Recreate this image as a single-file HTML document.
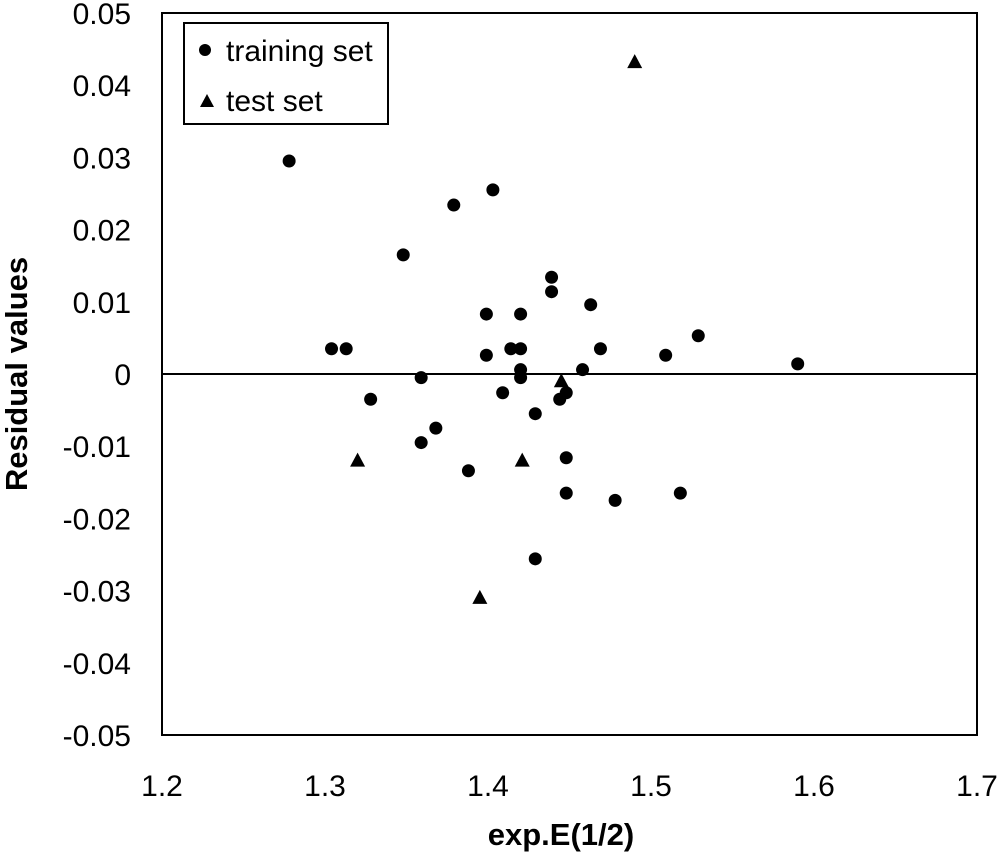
<!DOCTYPE html>
<html><head><meta charset="utf-8"><style>
body{margin:0;background:#fff;}
svg text{font-family:"Liberation Sans",Arial,sans-serif;fill:#000;}
</style></head><body>
<svg id="chart" width="1000" height="857" viewBox="0 0 1000 857" xmlns="http://www.w3.org/2000/svg">
<rect x="162" y="13" width="815" height="722" fill="none" stroke="#000" stroke-width="2"/>
<line x1="162" y1="374" x2="977" y2="374" stroke="#000" stroke-width="2"/>
<g id="xticks"></g>
<g id="yticks"></g>
<g id="marks"></g>
<text x="561" y="845" font-size="31" font-weight="bold" text-anchor="middle">exp.E(1/2)</text>
<text transform="translate(27,374) rotate(-90)" font-size="31" font-weight="bold" text-anchor="middle">Residual values</text>
<g>
<rect x="184" y="23" width="204" height="101" fill="#fff" stroke="#000" stroke-width="2"/>
<g>
<circle cx="205" cy="50" r="6" fill="#000"/>
<text x="226" y="61" font-size="30">training set</text></g>
<g>
<polygon points="207,94 200,107 214,107" fill="#000"/>
<text x="226" y="111" font-size="30">test set</text></g>
</g>
</svg>
<script>
const xTicks=[1.2,1.3,1.4,1.5,1.6,1.7];
const yTicks=[0.05,0.04,0.03,0.02,0.01,0,-0.01,-0.02,-0.03,-0.04,-0.05];
const yTickLabels=["0.05","0.04","0.03","0.02","0.01","0","-0.01","-0.02","-0.03","-0.04","-0.05"];
const trainX=[1.278,1.304,1.313,1.328,1.348,1.359,1.359,1.368,1.379,1.388,1.399,1.399,1.403,1.409,1.414,1.420,1.420,1.420,1.420,1.429,1.429,1.439,1.439,1.444,1.448,1.448,1.448,1.458,1.463,1.469,1.478,1.509,1.518,1.529,1.590];
const trainY=[0.0295,0.0035,0.0035,-0.0035,0.0165,-0.0005,-0.0095,-0.0075,0.0234,-0.0134,0.0083,0.0026,0.0255,-0.0026,0.0035,0.0035,0.0083,0.0006,-0.0005,-0.0055,-0.0256,0.0134,0.0114,-0.0035,-0.0026,-0.0116,-0.0165,0.0006,0.0096,0.0035,-0.0175,0.0026,-0.0165,0.0053,0.0014];
const testX=[1.490,1.320,1.421,1.445,1.395];
const testY=[0.0432,-0.012,-0.012,-0.001,-0.031];
const NS="http://www.w3.org/2000/svg";
function sx(v){return 162+(v-1.2)/0.5*815;}
function sy(v){return 374-v/0.05*361;}
const xg=document.getElementById('xticks'),yg=document.getElementById('yticks'),mg=document.getElementById('marks');
xTicks.forEach(v=>{const t=document.createElementNS(NS,'text');


t.setAttribute('x',sx(v));t.setAttribute('y',796);t.setAttribute('font-size','30');t.setAttribute('text-anchor','middle');t.textContent=v.toFixed(1);xg.appendChild(t);});
yTicks.forEach((v,i)=>{const t=document.createElementNS(NS,'text');


t.setAttribute('x',131);t.setAttribute('y',sy(v)+11);t.setAttribute('font-size','30');t.setAttribute('text-anchor','end');t.textContent=yTickLabels[i];yg.appendChild(t);});
trainX.forEach((v,i)=>{const c=document.createElementNS(NS,'circle');


c.setAttribute('cx',sx(v));c.setAttribute('cy',sy(trainY[i]));c.setAttribute('r',6.5);c.setAttribute('fill','#000');mg.appendChild(c);});
testX.forEach((v,i)=>{const x=sx(v),y=sy(testY[i]);const p=document.createElementNS(NS,'polygon');


p.setAttribute('points',`${x},${y-8} ${x-7.5},${y+6} ${x+7.5},${y+6}`);p.setAttribute('fill','#000');mg.appendChild(p);});
</script>
</body></html>
